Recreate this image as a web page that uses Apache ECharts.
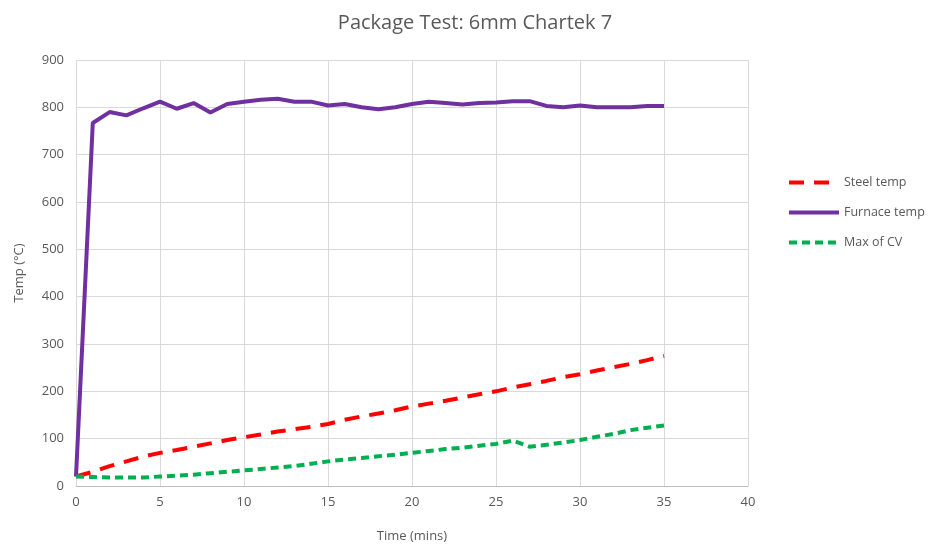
<!DOCTYPE html>
<html lang="en">
<head>
    <meta charset="UTF-8">
    <script type="text/javascript" src="https://cdn.jsdelivr.net/npm/echarts@6/dist/echarts.min.js"></script>
    <title>Package Test: 6mm Chartek 7</title>
</head>
<body style="margin:0;background:#fff;">
<div id="main" style="width: 936px;height:548px;"></div>
<script type="text/javascript">
    // data
    var minutes = [0,1,2,3,4,5,6,7,8,9,10,11,12,13,14,15,16,17,18,19,20,21,22,23,24,25,26,27,28,29,30,31,32,33,34,35];
    var steelTemp = [20,30,42,52,62,70,76,83,90,97,103,109,115,120,125,131,140,147,153,160,168,174,180,187,194,200,208,215,222,230,236,244,251,258,266,275];
    var furnaceTemp = [20,767,790,783,798,812,797,809,789,807,812,816,818,812,812,804,807,800,796,800,807,812,809,806,809,810,813,813,803,800,804,800,800,800,803,803];
    var maxCV = [20,19,18,18,18,20,22,24,27,30,33,36,39,42,47,52,56,59,63,66,70,74,78,81,85,89,96,83,87,92,97,104,110,118,123,128];

    function pairs(ys) {
        return minutes.map(function (m, i) { return [m, ys[i]]; });
    }

    var chart = echarts.init(document.getElementById('main'));
    var textColor = '#595959';
    chart.setOption({
        animation: false,
        title: {
            text: 'Package Test: 6mm Chartek 7',
            left: 470,
            textAlign: 'center',
            top: 8,
            textStyle: { fontFamily: 'Open Sans', fontWeight: 'normal', fontSize: 20, color: textColor }
        },
        legend: {
            orient: 'vertical',
            left: 782,
            top: 171,
            itemGap: 17,
            itemWidth: 50,
            itemHeight: 14,
            itemStyle: { opacity: 0 },
            lineStyle: { width: 4 },
            textStyle: { fontFamily: 'Open Sans', fontSize: 12.5, color: textColor },
            data: ['Steel temp', 'Furnace temp', 'Max of CV']
        },
        grid: { left: 76, right: 188, top: 60, bottom: 60 },
        xAxis: {
            type: 'value',
            min: 0, max: 40, interval: 5,
            name: 'Time (mins)',
            nameLocation: 'middle',
            nameGap: 44,
            nameTextStyle: { fontFamily: 'Open Sans', fontSize: 13, color: textColor },
            axisLine: { lineStyle: { color: '#bfbfbf' } },
            axisTick: { show: false },
            axisLabel: { fontFamily: 'Open Sans', fontSize: 13, color: textColor, margin: 10 },
            splitLine: { show: true, lineStyle: { color: '#d9d9d9' } }
        },
        yAxis: {
            type: 'value',
            min: 0, max: 900, interval: 100,
            name: 'Temp (°C)',
            nameLocation: 'middle',
            nameGap: 50,
            nameTextStyle: { fontFamily: 'Open Sans', fontSize: 13, color: textColor },
            axisLine: { show: false },
            axisTick: { show: false },
            axisLabel: { fontFamily: 'Open Sans', fontSize: 13, color: textColor, margin: 12 },
            splitLine: { lineStyle: { color: '#d9d9d9' } }
        },
        series: [
            {
                name: 'Steel temp',
                type: 'line',
                symbol: 'none',
                data: pairs(steelTemp),
                itemStyle: { color: '#ff0000' },
                lineStyle: { color: '#ff0000', width: 4, type: [15, 10] }
            },
            {
                name: 'Furnace temp',
                type: 'line',
                symbol: 'none',
                data: pairs(furnaceTemp),
                itemStyle: { color: '#7030a0' },
                lineStyle: { color: '#7030a0', width: 4 }
            },
            {
                name: 'Max of CV',
                type: 'line',
                symbol: 'none',
                data: pairs(maxCV),
                itemStyle: { color: '#00b050' },
                lineStyle: { color: '#00b050', width: 4, type: [8, 5] }
            }
        ]
    });
</script>
</body>
</html>
